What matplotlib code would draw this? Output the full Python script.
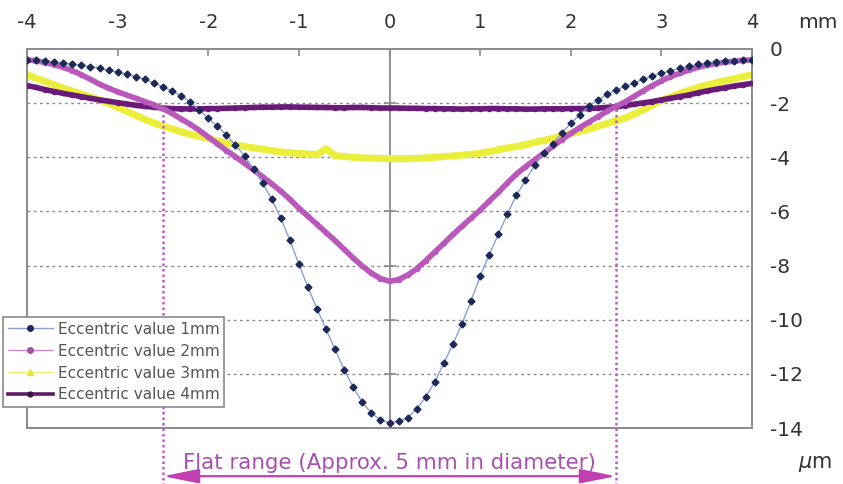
import matplotlib
matplotlib.use("Agg")
import matplotlib.pyplot as plt
import numpy as np

plt.rcParams['font.family'] = ['DejaVu Sans']

# x positions (mm), one reading every 0.1 mm
x_mm = np.round(np.arange(-40, 41) / 10.0, 1)

ecc_1mm = [-0.40, -0.42, -0.45, -0.48, -0.52, -0.56, -0.60, -0.65, -0.71, -0.78,
           -0.85, -0.93, -1.02, -1.12, -1.25, -1.40, -1.55, -1.73, -1.95, -2.25,
           -2.55, -2.85, -3.18, -3.55, -3.95, -4.45, -4.95, -5.55, -6.25, -7.05,
           -7.95, -8.80, -9.60, -10.35, -11.10, -11.85, -12.50, -13.05, -13.45, -13.70,
           -13.80,
           -13.75, -13.62, -13.30, -12.85, -12.30, -11.60, -10.90, -10.15, -9.30, -8.40,
           -7.60, -6.85, -6.10, -5.40, -4.85, -4.30, -3.85, -3.50, -3.10, -2.75,
           -2.42, -2.12, -1.88, -1.68, -1.52, -1.38, -1.25, -1.12, -1.00, -0.90,
           -0.80, -0.72, -0.64, -0.57, -0.52, -0.48, -0.45, -0.43, -0.41, -0.40]

ecc_2mm = [-0.40, -0.44, -0.50, -0.58, -0.68, -0.80, -0.95, -1.12, -1.30, -1.45,
           -1.58, -1.70, -1.82, -1.94, -2.06, -2.20, -2.38, -2.58, -2.78, -3.00,
           -3.25, -3.50, -3.75, -3.98, -4.22, -4.47, -4.72, -4.98, -5.25, -5.55,
           -5.88, -6.18, -6.48, -6.78, -7.08, -7.40, -7.72, -8.02, -8.28, -8.48,
           -8.58,
           -8.52, -8.35, -8.12, -7.82, -7.50, -7.18, -6.85, -6.55, -6.25, -5.95,
           -5.62, -5.30, -4.95, -4.62, -4.35, -4.10, -3.85, -3.60, -3.35, -3.12,
           -2.90, -2.70, -2.50, -2.30, -2.12, -1.95, -1.75, -1.55, -1.35, -1.18,
           -1.02, -0.90, -0.78, -0.68, -0.60, -0.54, -0.49, -0.45, -0.42, -0.40]

ecc_3mm = [-0.95, -1.08, -1.20, -1.32, -1.45, -1.55, -1.66, -1.77, -1.88, -2.01,
           -2.15, -2.30, -2.45, -2.60, -2.73, -2.85, -2.95, -3.05, -3.15, -3.23,
           -3.30, -3.40, -3.48, -3.55, -3.60, -3.65, -3.70, -3.75, -3.80, -3.83,
           -3.86, -3.88, -3.90, -3.68, -3.94, -3.97, -4.00, -4.02, -4.03, -4.04,
           -4.05,
           -4.05, -4.05, -4.04, -4.02, -4.00, -3.97, -3.95, -3.92, -3.89, -3.85,
           -3.79, -3.72, -3.66, -3.60, -3.53, -3.45, -3.38, -3.30, -3.21, -3.12,
           -3.04, -2.95, -2.86, -2.75, -2.65, -2.55, -2.40, -2.25, -2.07, -1.90,
           -1.77, -1.65, -1.53, -1.42, -1.33, -1.25, -1.17, -1.10, -1.02, -0.95]

ecc_4mm = [-1.35, -1.42, -1.50, -1.57, -1.64, -1.70, -1.76, -1.82, -1.88, -1.93,
           -1.98, -2.03, -2.08, -2.12, -2.15, -2.18, -2.20, -2.21, -2.21, -2.21,
           -2.20, -2.20, -2.19, -2.18, -2.17, -2.16, -2.15, -2.15, -2.14, -2.14,
           -2.15, -2.15, -2.16, -2.16, -2.17, -2.17, -2.16, -2.16, -2.17, -2.18,
           -2.18,
           -2.18, -2.19, -2.19, -2.20, -2.20, -2.21, -2.21, -2.22, -2.21, -2.21,
           -2.20, -2.20, -2.21, -2.21, -2.22, -2.22, -2.21, -2.21, -2.21, -2.20,
           -2.20, -2.20, -2.18, -2.16, -2.13, -2.09, -2.04, -1.99, -1.94, -1.88,
           -1.82, -1.76, -1.70, -1.62, -1.55, -1.49, -1.43, -1.37, -1.32, -1.27]

labels = ['Eccentric value 1mm', 'Eccentric value 2mm',
          'Eccentric value 3mm', 'Eccentric value 4mm']

x_ticks = [-4, -3, -2, -1, 0, 1, 2, 3, 4]
y_ticks = [0, -2, -4, -6, -8, -10, -12, -14]
flat_edge = 2.5

GRAY = '#8a8a8a'
TXT = '#333333'
PINK = '#c458c4'

fig = plt.figure(figsize=(8.43, 4.84), dpi=100)
ax = fig.add_axes([27 / 843, 1 - 428 / 484, 725 / 843, 379 / 484])

ax.set_xlim(-4, 4)
ax.set_ylim(-14, 0)

# grid and centre line
for yv in y_ticks[1:-1]:
    ax.axhline(yv, color=GRAY, lw=1.0, ls=(0, (2, 2.5)), zorder=1)
ax.axvline(0, color=GRAY, lw=1.3, zorder=1)
ax.plot(np.zeros(len(y_ticks[1:-1])), y_ticks[1:-1], ls='none', marker='_',
        ms=9, mew=1.2, color=GRAY, zorder=1)

# curves
ax.plot(x_mm, ecc_4mm, color='#6a1a78', lw=4, marker='o', ms=3, zorder=3)
ax.plot(x_mm, ecc_3mm, color='#ecee3c', lw=5, marker='^', ms=3, zorder=2)
ax.plot(x_mm, ecc_2mm, color='#b957bb', lw=4, marker='o', ms=3, zorder=4)
ax.plot(x_mm, ecc_1mm, color='#8aa0d0', lw=1.0, marker='D', ms=3.5,
        mfc='#1c2858', mec='#1c2858', zorder=5)

# flat range markers below the plot
bottom = -16.1
for xv in (-flat_edge, flat_edge):
    ax.plot([xv, xv], [-2.2, bottom], color=PINK, lw=1.8, ls=(0, (1, 1.2)),
            clip_on=False, zorder=6)
ax.annotate('', xy=(-flat_edge, -15.78), xytext=(flat_edge, -15.78),
            arrowprops=dict(arrowstyle='<|-|>,head_length=1.1,head_width=0.22',
                            color='#c040b0', lw=1.6,
                            mutation_scale=20, shrinkA=0, shrinkB=0),
            annotation_clip=False)
ax.text(0, -15.3, 'Flat range (Approx. 5 mm in diameter)', ha='center', va='center',
        fontsize=15.4, color='#a64fae', clip_on=False)

# axes styling
for s in ax.spines.values():
    s.set_color(GRAY)
    s.set_linewidth(1.4)
ax.xaxis.tick_top()
ax.set_xticks(x_ticks)
ax.set_xticklabels([str(v) for v in x_ticks])
ax.tick_params(axis='x', direction='in', length=5, width=1.2, color=GRAY,
               pad=12, labelsize=14, labelcolor=TXT)
ax.yaxis.tick_right()
ax.set_yticks(y_ticks)
ax.set_yticklabels([str(v) for v in y_ticks])
ax.tick_params(axis='y', length=0, pad=13, labelsize=14.5, labelcolor=TXT)

fig.text(798 / 843, 1 - 22 / 484, 'mm', fontsize=14.5, color=TXT, va='center', ha='left')
fig.text(798 / 843, 1 - 464 / 484, r'$\mu$m', fontsize=15, color=TXT, va='center', ha='left')

# legend with thin handle lines (the last one thick)
h1, = ax.plot([], [], color='#8aa0d0', lw=1.0, marker='o', ms=4, mfc='#1c2858', mec='#1c2858')
h2, = ax.plot([], [], color='#c98ccc', lw=1.0, marker='o', ms=4, mfc='#a0529f', mec='#a0529f')
h3, = ax.plot([], [], color='#eef070', lw=1.0, marker='^', ms=5, mfc='#e2e43a', mec='#e2e43a')
h4, = ax.plot([], [], color='#5e1a62', lw=2.6, marker='o', ms=3.5, mfc='#3c1040', mec='#3c1040')
leg = ax.legend([h1, h2, h3, h4], labels,
                loc='lower left', bbox_to_anchor=(3 / 843, 1 - 407 / 484),
                bbox_transform=fig.transFigure, fontsize=11, frameon=True,
                fancybox=False, framealpha=1, edgecolor=GRAY, borderpad=0.3,
                labelspacing=0.45, handlelength=3.0, handletextpad=0.3,
                borderaxespad=0)
leg.get_frame().set_linewidth(1.2)
leg.set_zorder(10)
for t in leg.get_texts():
    t.set_color('#555555')

fig.savefig('out.png', dpi=100)
